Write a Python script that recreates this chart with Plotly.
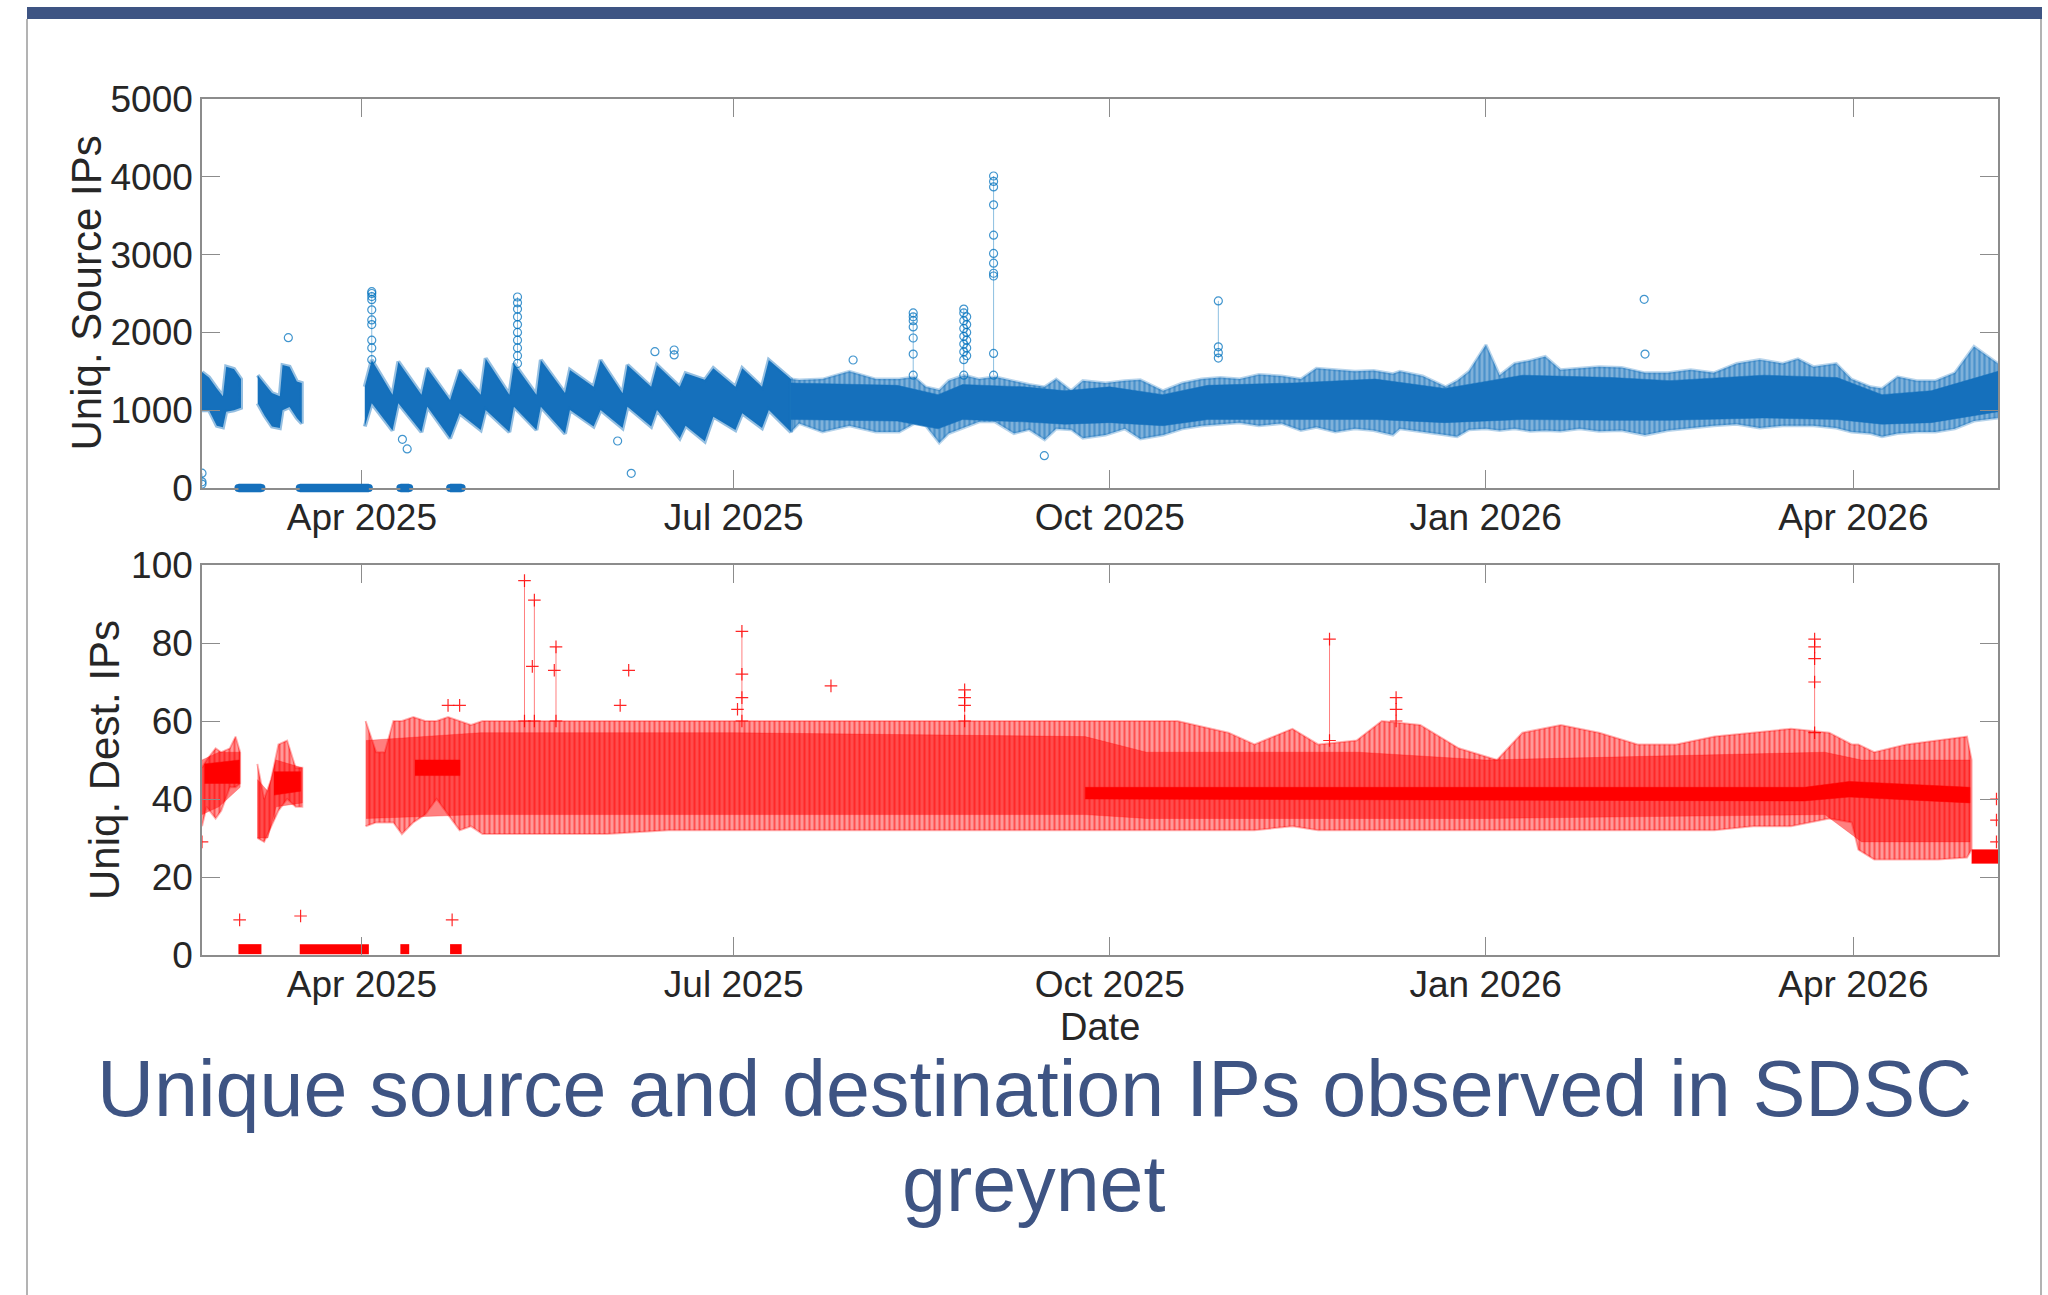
import plotly.graph_objects as go

W, H = 2048, 1295

# ---------------- data ----------------
x_range = ["2025-02-20 21:00", "2026-05-06 09:00"]
tick_dates = ["2025-04-01", "2025-07-01", "2025-10-01", "2026-01-01", "2026-04-01"]
tick_labels = ["Apr 2025", "Jul 2025", "Oct 2025", "Jan 2026", "Apr 2026"]
y1_ticks = [0, 1000, 2000, 3000, 4000, 5000]
y2_ticks = [0, 20, 40, 60, 80, 100]

# Unique source IPs: outer envelope of the band (None = gap between segments)
src_dates = [
    "2025-02-20 21:00", "2025-02-22 14:00", "2025-02-24 12:00", "2025-02-26 00:00", "2025-02-26 19:00",
    "2025-02-28 17:00", "2025-03-02 10:00", None,
    "2025-03-06 12:00", "2025-03-08 05:00", "2025-03-10 00:00", "2025-03-11 22:00", "2025-03-12 14:00",
    "2025-03-14 07:00", "2025-03-16 02:00", "2025-03-17 07:00", None,
    "2025-04-01 17:00", "2025-04-03 10:00", "2025-04-08 12:00", "2025-04-09 22:00", "2025-04-15 14:00",
    "2025-04-17 00:00", "2025-04-22 14:00", "2025-04-24 22:00", "2025-04-30 02:00", "2025-05-01 07:00",
    "2025-05-07 02:00", "2025-05-08 05:00", "2025-05-13 17:00", "2025-05-14 19:00", "2025-05-20 17:00",
    "2025-05-21 22:00", "2025-05-27 17:00", "2025-05-29 10:00", "2025-06-03 19:00", "2025-06-05 00:00",
    "2025-06-10 19:00", "2025-06-12 05:00", "2025-06-17 19:00", "2025-06-19 05:00", "2025-06-23 22:00",
    "2025-06-26 00:00", "2025-07-01 10:00", "2025-07-03 02:00", "2025-07-07 22:00", "2025-07-09 14:00",
    "2025-07-15 00:00", "2025-07-17 00:00", "2025-07-22 17:00", "2025-07-29 07:00", "2025-08-04 19:00",
    "2025-08-10 12:00", "2025-08-14 05:00", "2025-08-17 00:00", "2025-08-20 07:00", "2025-08-22 14:00",
    "2025-08-26 10:00", "2025-08-30 02:00", "2025-09-02 22:00", "2025-09-07 14:00", "2025-09-11 07:00",
    "2025-09-15 02:00", "2025-09-17 22:00", "2025-09-21 14:00", "2025-09-24 10:00", "2025-09-30 00:00",
    "2025-10-04 17:00", "2025-10-08 12:00", "2025-10-14 02:00", "2025-10-18 19:00", "2025-10-23 12:00",
    "2025-10-28 02:00", "2025-11-01 19:00", "2025-11-06 12:00", "2025-11-12 02:00", "2025-11-16 19:00",
    "2025-11-20 14:00", "2025-11-25 05:00", "2025-11-30 00:00", "2025-12-04 14:00", "2025-12-09 07:00",
    "2025-12-11 00:00", "2025-12-16 14:00", "2025-12-22 05:00", "2025-12-25 00:00", "2025-12-27 22:00",
    "2026-01-01 02:00", "2026-01-04 10:00", "2026-01-08 02:00", "2026-01-11 22:00", "2026-01-15 14:00",
    "2026-01-19 07:00", "2026-01-24 00:00", "2026-01-28 17:00", "2026-02-03 07:00", "2026-02-09 00:00",
    "2026-02-14 14:00", "2026-02-20 05:00", "2026-02-25 19:00", "2026-03-03 10:00", "2026-03-09 02:00",
    "2026-03-14 17:00", "2026-03-18 10:00", "2026-03-22 05:00", "2026-03-27 19:00", "2026-03-31 12:00",
    "2026-04-05 05:00", "2026-04-08 00:00", "2026-04-11 19:00", "2026-04-16 12:00", "2026-04-21 02:00",
    "2026-04-25 19:00", "2026-04-30 12:00", "2026-05-06 09:00",
]
src_high = [
    1490, 1420, 1280, 1180, 1560, 1530, 1400, None,
    1450, 1340, 1220, 1180, 1580, 1560, 1370, 1350, None,
    1300, 1645, 1200, 1624, 1200, 1540, 1130, 1517, 1200, 1666,
    1200, 1600, 1200, 1645, 1220, 1517, 1300, 1645, 1217, 1580,
    1300, 1580, 1300, 1474, 1390, 1540, 1300, 1540, 1300, 1645,
    1400, 1388, 1400, 1500, 1400, 1400, 1430, 1300, 1260, 1380,
    1450, 1400, 1430, 1370, 1330, 1300, 1400, 1250, 1380, 1350,
    1380, 1390, 1250, 1350, 1400, 1420, 1400, 1460, 1440, 1400,
    1540, 1520, 1500, 1510, 1470, 1500, 1440, 1300, 1380, 1500,
    1840, 1450, 1600, 1640, 1690, 1520, 1540, 1560, 1550, 1480,
    1480, 1520, 1480, 1600, 1650, 1600, 1660, 1560, 1600, 1400,
    1300, 1280, 1430, 1380, 1380, 1480, 1820, 1600,
]
src_low = [
    1000, 1000, 800, 780, 980, 1000, 1030, None,
    1090, 930, 790, 770, 1000, 1040, 900, 830, None,
    790, 1090, 740, 1090, 720, 1045, 640, 960, 746, 1003,
    720, 1045, 746, 1045, 700, 1003, 790, 1003, 770, 1045,
    790, 1003, 640, 800, 600, 917, 746, 960, 770, 1003,
    720, 830, 720, 800, 720, 720, 830, 800, 580, 700,
    780, 850, 850, 700, 750, 620, 760, 750, 640, 680,
    760, 630, 680, 760, 800, 820, 840, 800, 830, 740,
    780, 720, 760, 740, 680, 760, 720, 680, 660, 750,
    760, 740, 760, 730, 740, 730, 760, 730, 740, 680,
    740, 770, 800, 820, 770, 800, 800, 800, 770, 720,
    700, 660, 700, 720, 720, 760, 860, 900,
]
# from this date on, the outer envelope is only a sparse fringe
src_sparse_from = "2025-07-15 00:00"
# dense core of the source band in the later period
src_core_dates = [
    "2025-07-15 00:00", "2025-08-10 00:00", "2025-08-20 00:00", "2025-08-26 00:00", "2025-09-10 00:00",
    "2025-09-20 00:00", "2025-10-01 00:00", "2025-10-14 00:00", "2025-10-25 00:00", "2025-11-15 00:00",
    "2025-12-05 00:00", "2025-12-22 00:00", "2026-01-10 00:00", "2026-02-01 00:00", "2026-02-15 00:00",
    "2026-03-10 00:00", "2026-03-28 00:00", "2026-04-08 00:00", "2026-04-20 00:00", "2026-05-06 09:00",
]
src_core_high = [1350, 1320, 1200, 1330, 1300, 1250, 1300, 1200, 1320, 1350,
                 1400, 1280, 1450, 1420, 1380, 1450, 1420, 1200, 1250, 1500]
src_core_low = [880, 860, 760, 880, 850, 820, 840, 800, 880, 880,
                880, 840, 880, 870, 870, 900, 880, 820, 840, 980]

# Source IPs: isolated points and spikes (None separates groups)
src_spike_dates = [
    "2025-02-20 21:00", "2025-02-20 21:00", "2025-02-20 21:00", None,
    "2025-03-14 00:00", None,
    "2025-04-03 10:00", "2025-04-03 10:00", "2025-04-03 10:00", "2025-04-03 10:00", "2025-04-03 10:00",
    "2025-04-03 10:00", "2025-04-03 10:00", "2025-04-03 10:00", "2025-04-03 10:00", "2025-04-03 10:00", None,
    "2025-04-10 22:00", None, "2025-04-12 02:00", None,
    "2025-05-09 02:00", "2025-05-09 02:00", "2025-05-09 02:00", "2025-05-09 02:00", "2025-05-09 02:00",
    "2025-05-09 02:00", "2025-05-09 02:00", "2025-05-09 02:00", "2025-05-09 02:00", "2025-05-09 02:00", None,
    "2025-06-02 14:00", None, "2025-06-05 22:00", None,
    "2025-06-11 17:00", None, "2025-06-16 10:00", "2025-06-16 10:00", None,
    "2025-07-30 05:00", None,
    "2025-08-13 22:00", "2025-08-13 22:00", "2025-08-13 22:00", "2025-08-13 22:00", "2025-08-13 22:00",
    "2025-08-13 22:00", "2025-08-13 22:00", None,
    "2025-08-26 07:00", "2025-08-26 07:00", "2025-08-26 07:00", "2025-08-26 07:00", "2025-08-26 07:00",
    "2025-08-26 07:00", "2025-08-26 07:00", "2025-08-26 07:00", "2025-08-26 07:00", None,
    "2025-08-27 00:00", "2025-08-27 00:00", "2025-08-27 00:00", "2025-08-27 00:00", "2025-08-27 00:00",
    "2025-08-27 00:00", None,
    "2025-09-02 14:00", "2025-09-02 14:00", "2025-09-02 14:00", "2025-09-02 14:00", "2025-09-02 14:00",
    "2025-09-02 14:00", "2025-09-02 14:00", "2025-09-02 14:00", "2025-09-02 14:00", "2025-09-02 14:00",
    "2025-09-02 14:00", None,
    "2025-09-15 00:00", None,
    "2025-10-27 14:00", "2025-10-27 14:00", "2025-10-27 14:00", "2025-10-27 14:00", None,
    "2026-02-08 19:00", None, "2026-02-09 00:00",
]
src_spike_values = [
    190, 80, 50, None,
    1932, None,
    1650, 1800, 1900, 2100, 2160, 2290, 2420, 2460, 2500, 2523, None,
    626, None, 502, None,
    1600, 1700, 1800, 1900, 2000, 2100, 2200, 2300, 2380, 2455, None,
    604, None, 189, None,
    1752, None, 1710, 1774, None,
    1645, None,
    1450, 1722, 1928, 2070, 2150, 2200, 2250, None,
    1450, 1650, 1750, 1850, 1950, 2050, 2150, 2250, 2300, None,
    1700, 1800, 1900, 2000, 2100, 2200, None,
    1450, 1730, 2725, 2760, 2890, 3015, 3250, 3640, 3870, 3940, 4010, None,
    415, None,
    1670, 1740, 1815, 2405, None,
    2425, None, 1722,
]

# Outage periods (source count drops to 0, destination count to ~1-2)
outage_start = ["2025-03-01 19:00", "2025-03-16 19:00", "2025-04-10 10:00", "2025-04-22 14:00"]
outage_end = ["2025-03-07 10:00", "2025-04-02 17:00", "2025-04-12 14:00", "2025-04-25 10:00"]
src_outage_level = [0, 0, 0, 0]
dst_outage_level = [1.5, 1.5, 1.5, 1.5]

# Unique destination IPs: outer envelope of the band
dst_dates = [
    "2025-02-20 21:00", "2025-02-22 00:00", "2025-02-24 05:00", "2025-02-25 14:00", "2025-02-27 17:00",
    "2025-03-01 02:00", "2025-03-02 05:00", None,
    "2025-03-06 10:00", "2025-03-08 02:00", "2025-03-09 19:00", "2025-03-11 14:00", "2025-03-13 17:00",
    "2025-03-15 19:00", "2025-03-17 10:00", None,
    "2025-04-01 22:00", "2025-04-04 12:00", "2025-04-06 14:00", "2025-04-08 17:00", "2025-04-10 19:00",
    "2025-04-13 14:00", "2025-04-16 12:00", "2025-04-19 07:00", "2025-04-22 02:00", "2025-04-24 22:00",
    "2025-04-27 17:00", "2025-04-30 12:00", "2025-05-16 00:00", "2025-05-31 00:00", "2025-06-15 00:00",
    "2025-06-30 00:00", "2025-07-15 00:00", "2025-07-30 00:00", "2025-08-14 00:00", "2025-08-29 00:00",
    "2025-09-16 07:00", "2025-10-02 00:00", "2025-10-17 14:00", "2025-10-30 02:00", "2025-11-05 10:00",
    "2025-11-14 17:00", "2025-11-21 00:00", "2025-11-30 10:00", "2025-12-06 14:00", "2025-12-16 00:00",
    "2025-12-25 10:00", "2026-01-03 19:00", "2026-01-10 00:00", "2026-01-19 10:00", "2026-01-28 19:00",
    "2026-02-07 05:00", "2026-02-16 14:00", "2026-02-26 00:00", "2026-03-07 10:00", "2026-03-16 17:00",
    "2026-03-26 02:00", "2026-03-31 14:00", "2026-04-02 05:00", "2026-04-06 02:00", "2026-04-13 22:00",
    "2026-04-21 17:00", "2026-04-28 19:00", "2026-04-29 22:00",
]
dst_high = [
    48, 50, 53, 52, 53, 56, 52, None,
    49, 40, 45, 54, 55, 48, 48, None,
    60, 52, 52, 60, 60, 61, 60, 60, 61, 60,
    59, 60, 60, 60, 60, 60, 60, 60, 60, 60,
    60, 60, 60, 57, 54, 58, 54, 55, 60, 59,
    53, 50, 57, 59, 57, 54, 54, 56, 57, 58,
    57, 54, 54, 52, 54, 55, 56, 50,
]
dst_low = [
    33, 38, 35, 37, 43, 43, 44, None,
    30, 29, 33, 37, 40, 38, 38, None,
    33, 34, 34, 34, 31, 34, 36, 40, 36, 32,
    33, 31, 31, 31, 32, 32, 32, 32, 32, 32,
    32, 32, 32, 32, 32, 33, 32, 32, 32, 32,
    32, 32, 32, 32, 32, 32, 32, 32, 33, 33,
    35, 34, 27, 24.5, 24.5, 24.5, 25, 27,
]
# Main body of the destination band (most of the marks)
dst_body_dates = [
    "2025-02-20 21:00", "2025-02-25 00:00", "2025-03-02 05:00", None,
    "2025-03-06 10:00", "2025-03-09 00:00", "2025-03-11 00:00", "2025-03-17 10:00", None,
    "2025-04-02 00:00", "2025-04-30 00:00", "2025-07-01 00:00", "2025-09-25 00:00", "2025-10-10 00:00",
    "2025-12-01 00:00", "2026-01-01 00:00", "2026-03-25 00:00", "2026-04-03 00:00", "2026-04-29 12:00",
]
dst_body_high = [50, 52, 52, None, 45, 42, 50, 48, None, 55, 57, 57, 56, 52, 52, 50, 52, 50, 50]
dst_body_low = [36, 38, 43, None, 30, 30, 38, 39, None, 35, 36, 36, 36, 35, 35, 35, 36, 29, 29]
# Densest part of the destination band
dst_core_dates = [
    "2025-02-21 12:00", "2025-03-02 00:00", None,
    "2025-03-10 12:00", "2025-03-17 00:00", None,
    "2025-04-14 00:00", "2025-04-25 00:00", None,
    "2025-09-25 00:00", "2026-03-20 00:00", "2026-03-31 00:00", "2026-04-29 12:00", None,
    "2026-04-29 22:00", "2026-05-06 09:00",
]
dst_core_high = [49, 50, None, 47, 47, None, 50, 50, None, 43, 43, 44.5, 43, None, 27, 27]
dst_core_low = [44, 44, None, 41, 42, None, 46, 46, None, 40, 39.5, 40.5, 39, None, 23.5, 23.5]

# Destination IPs: isolated points and spikes
dst_spike_dates = [
    "2025-02-20 21:00", None, "2025-03-02 02:00", None, "2025-03-17 00:00", None, "2025-04-23 02:00", None,
    "2025-04-22 02:00", None, "2025-04-24 22:00", None,
    "2025-05-10 19:00", "2025-05-10 19:00", None,
    "2025-05-12 17:00", None, "2025-05-13 05:00", "2025-05-13 05:00", None,
    "2025-05-18 02:00", None, "2025-05-18 12:00", "2025-05-18 12:00", None,
    "2025-06-03 05:00", None, "2025-06-05 07:00", None, "2025-07-01 22:00", None,
    "2025-07-03 00:00", "2025-07-03 00:00", "2025-07-03 00:00", "2025-07-03 00:00", None,
    "2025-07-24 19:00", None,
    "2025-08-26 12:00", "2025-08-26 12:00", "2025-08-26 12:00", "2025-08-26 12:00", None,
    "2025-11-23 19:00", "2025-11-23 19:00", None,
    "2025-12-10 02:00", "2025-12-10 02:00", "2025-12-10 02:00", None,
    "2026-03-22 12:00", "2026-03-22 12:00", "2026-03-22 12:00", "2026-03-22 12:00", "2026-03-22 12:00", None,
    "2026-05-06 00:00", None, "2026-05-06 00:00", None, "2026-05-06 00:00",
]
dst_spike_values = [
    29, None, 9, None, 10, None, 9, None,
    64, None, 64, None,
    60, 96, None,
    74, None, 60, 91, None,
    73, None, 60, 79, None,
    64, None, 73, None, 63, None,
    60, 66, 72, 83, None,
    69, None,
    60, 64, 66, 68, None,
    55, 81, None,
    60, 63, 66, None,
    57, 70, 76, 79, 81, None,
    40, None, 34.6, None, 29,
]

# ---------------- styling ----------------
BLUE = "#1570bc"
NAVY = "#3e5483"
AXC = "#8c8c8c"
TXT = "#262626"
FONT = "Liberation Sans, Arial, sans-serif"

fig = go.Figure()


def segments(dates):
    segs, cur = [], []
    for i, d in enumerate(dates):
        if d is None:
            if cur:
                segs.append(cur)
            cur = []
        else:
            cur.append(i)
    if cur:
        segs.append(cur)
    return segs


def polygon(idx, dates, hi, lo, fillcolor, xa, ya, edge=None, pattern=None):
    xs = [dates[i] for i in idx]
    ys = [hi[i] for i in idx] + [lo[i] for i in idx][::-1]
    kw = {}
    if pattern is not None:
        kw["fillpattern"] = pattern
    fig.add_trace(go.Scatter(
        x=xs + xs[::-1], y=ys, fill="toself", fillcolor=fillcolor, mode="lines",
        line=dict(width=edge[1] if edge else 0.5, color=edge[0] if edge else fillcolor),
        xaxis=xa, yaxis=ya, hoverinfo="skip", showlegend=False, **kw))


def add_band(dates, hi, lo, fillcolor, xa, ya, edge=None, pattern=None):
    for seg in segments(dates):
        polygon(seg, dates, hi, lo, fillcolor, xa, ya, edge, pattern)


# ---- top panel: source IPs
src_fringe_pattern = dict(shape="|", size=5, solidity=0.45,
                          bgcolor="rgba(21,112,188,0.55)", fgcolor="rgba(21,112,188,0.95)")
for seg in segments(src_dates):
    dense = [i for i in seg if src_dates[i] <= src_sparse_from]
    sparse = [i for i in seg if src_dates[i] >= src_sparse_from]
    if len(dense) > 1:
        polygon(dense, src_dates, src_high, src_low, BLUE, "x", "y", ("rgba(21,112,188,0.45)", 4))
    if len(sparse) > 1:
        polygon(sparse, src_dates, src_high, src_low, "rgba(21,112,188,0.7)", "x", "y",
                ("rgba(21,112,188,0.3)", 3), src_fringe_pattern)
add_band(src_core_dates, src_core_high, src_core_low, BLUE, "x", "y")

# outage end points (circles straddling the zero line)
fig.add_trace(go.Scatter(
    x=outage_start + outage_end, y=src_outage_level + src_outage_level, mode="markers",
    marker=dict(size=8, color=BLUE), cliponaxis=False,
    xaxis="x", yaxis="y", showlegend=False, hoverinfo="skip"))
fig.add_trace(go.Scatter(
    x=src_spike_dates, y=src_spike_values, mode="lines+markers",
    line=dict(width=1, color="rgba(0,114,189,0.45)"),
    marker=dict(symbol="circle-open", size=8, color="rgba(0,114,189,0.75)", line=dict(width=1.2)),
    connectgaps=False, xaxis="x", yaxis="y", showlegend=False, hoverinfo="skip"))

# ---- bottom panel: destination IPs
dst_pattern = dict(shape="|", size=5, solidity=0.4,
                   bgcolor="rgba(255,0,0,0.4)", fgcolor="rgba(255,0,0,0.95)")
add_band(dst_dates, dst_high, dst_low, "rgba(255,0,0,0.5)", "x2", "y2", ("rgba(255,0,0,0.3)", 2), dst_pattern)
add_band(dst_body_dates, dst_body_high, dst_body_low, "rgba(255,0,0,0.5)", "x2", "y2")
add_band(dst_core_dates, dst_core_high, dst_core_low, "rgb(255,0,0)", "x2", "y2")
ox, oy = [], []
for s, e, v in zip(outage_start, outage_end, dst_outage_level):
    ox += [s, e, None]
    oy += [v, v, None]
fig.add_trace(go.Scatter(x=ox, y=oy, mode="lines", line=dict(width=10, color="red"),
                         xaxis="x2", yaxis="y2", showlegend=False, hoverinfo="skip"))
fig.add_trace(go.Scatter(
    x=dst_spike_dates, y=dst_spike_values, mode="lines+markers",
    line=dict(width=1, color="rgba(255,0,0,0.5)"),
    marker=dict(symbol="cross-thin-open", size=9, color="rgba(255,0,0,0.85)",
                line=dict(width=1.2, color="rgba(255,0,0,0.85)")),
    connectgaps=False, xaxis="x2", yaxis="y2", showlegend=False, hoverinfo="skip"))

# ---- axes
xd = [202 / W, 1998 / W]
common_x = dict(type="date", range=x_range, tickvals=tick_dates, ticktext=tick_labels,
                ticks="inside", ticklen=18, tickwidth=1.2, tickcolor=AXC, showline=True,
                linecolor=AXC, linewidth=1.5, mirror="ticks", showgrid=False, zeroline=False,
                automargin=False, tickfont=dict(size=37, color=TXT, family=FONT), domain=xd)
common_y = dict(ticks="inside", ticklen=18, tickwidth=1.2, tickcolor=AXC, showline=True,
                linecolor=AXC, linewidth=1.5, mirror="ticks", showgrid=False, zeroline=False,
                automargin=False, tickfont=dict(size=37, color=TXT, family=FONT))

fig.update_layout(
    width=W, height=H, margin=dict(l=0, r=0, t=0, b=0, autoexpand=False),
    paper_bgcolor="white", plot_bgcolor="white", showlegend=False,
    xaxis=dict(common_x, anchor="y"),
    yaxis=dict(common_y, range=[0, 5000], tickvals=y1_ticks, domain=[1 - 488 / H, 1 - 99 / H], anchor="x"),
    xaxis2=dict(common_x, anchor="y2"),
    yaxis2=dict(common_y, range=[0, 100], tickvals=y2_ticks, domain=[1 - 955 / H, 1 - 565 / H], anchor="x2"),
)
try:
    fig.update_xaxes(ticklabelstandoff=-4)
except Exception:
    pass


def py(p):
    return 1 - p / H


ann = [
    dict(text="Uniq. Source IPs", x=85.5 / W, y=py(293), textangle=-90, font=dict(size=42, color=TXT, family=FONT)),
    dict(text="Uniq. Dest. IPs", x=104 / W, y=py(760), textangle=-90, font=dict(size=42, color=TXT, family=FONT)),
    dict(text="Date", x=1100 / W, y=py(1027), font=dict(size=38, color=TXT, family=FONT)),
    dict(text="Unique source and destination IPs observed in SDSC", x=1034 / W, y=py(1088),
         font=dict(size=79, color=NAVY, family=FONT)),
    dict(text="greynet", x=1034 / W, y=py(1183), font=dict(size=79, color=NAVY, family=FONT)),
]
for a in ann:
    a.update(xref="paper", yref="paper", xanchor="center", yanchor="middle", showarrow=False)
fig.update_layout(annotations=ann)

shapes = [
    dict(type="rect", xref="paper", yref="paper", x0=27 / W, x1=2042 / W, y0=py(19), y1=py(7),
         fillcolor=NAVY, line=dict(width=0)),
    dict(type="line", xref="paper", yref="paper", x0=27 / W, x1=27 / W, y0=py(19), y1=0,
         line=dict(color="#9a9a9a", width=1.5)),
    dict(type="line", xref="paper", yref="paper", x0=2041 / W, x1=2041 / W, y0=py(19), y1=0,
         line=dict(color="#9a9a9a", width=1.5)),
]
# outage periods on the zero line of the source panel (thick bar straddling the axis line)
for s, e in zip(outage_start, outage_end):
    shapes.append(dict(type="rect", xref="x", yref="y domain", x0=s, x1=e, y0=-0.011, y1=0.011,
                       fillcolor=BLUE, line=dict(width=0), layer="above"))
fig.update_layout(shapes=shapes)

fig.write_html("out.html", config={"displayModeBar": False},
               post_script="document.body.style.margin='0px';document.body.style.overflow='hidden';")
